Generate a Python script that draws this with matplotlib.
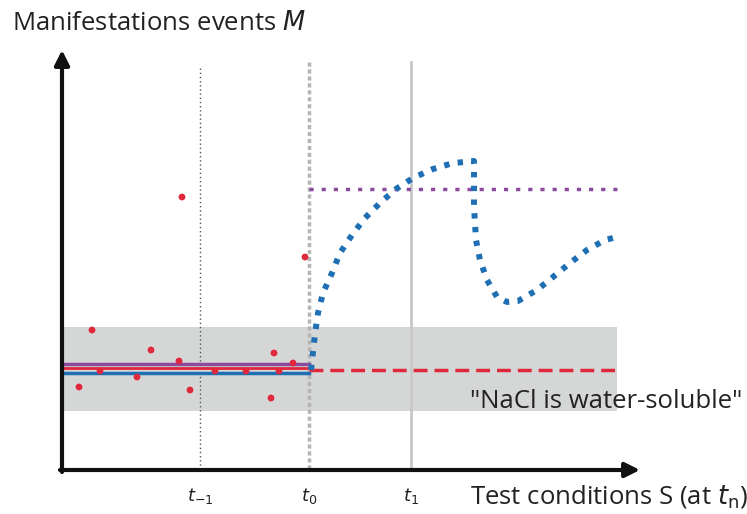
import matplotlib
matplotlib.use("Agg")
import matplotlib.pyplot as plt
from matplotlib.patches import Rectangle

# ---- data (pixel-like coordinates, y grows downward) ----
dots_x = [92, 79, 100, 137, 151, 179, 190, 215, 246, 271, 274, 279, 293, 182, 305]
dots_y = [330, 387, 371, 377, 350, 361, 390, 371, 371, 398, 353, 371, 363, 197, 257]

curve_x = [311, 315, 318, 323, 332, 340, 352, 365, 380, 396, 413, 433, 453, 465, 474,
           474, 476, 480, 487, 497, 507, 518, 537, 553, 570, 587, 605, 613]
curve_y = [370, 334, 313, 293, 273, 253, 235, 218, 203, 189, 178, 169, 163, 162, 161,
           207, 240, 260, 280, 297, 302, 301, 290, 277, 263, 250, 240, 238]

baseline_purple = 364
baseline_red = 368
baseline_blue = 373
red_dash_y = 370
purple_dot_y = 189
band_top, band_bottom = 327, 411
band_left, band_right = 62, 617

t_positions = [200, 309, 411]
t_labels = [r"$t_{-1}$", r"$t_0$", r"$t_1$"]

RED = "#e0283c"
PURPLE = "#8b4a9c"
BLUE = "#1f6fb4"

fig = plt.figure(figsize=(7.47, 5.14), dpi=100)
ax = fig.add_axes([0, 0, 1, 1])
ax.set_xlim(0, 747)
ax.set_ylim(514, 0)
ax.axis("off")

# gray band
ax.add_patch(Rectangle((band_left, band_top), band_right - band_left, band_bottom - band_top,
                       facecolor="#d5d6d6", edgecolor="none", zorder=0))

# vertical reference lines
ax.plot([t_positions[0]] * 2, [68, 470], color="#555555", lw=1.0, ls=(0, (1, 2)), zorder=1)
ax.plot([t_positions[1]] * 2, [62, 470], color="#b5b5b5", lw=2.5, ls=(0, (1.2, 0.8)), zorder=1)
ax.plot([t_positions[2]] * 2, [62, 470], color="#c8c8c8", lw=2.0, zorder=1)

# baselines
ax.plot([62, 309], [baseline_purple] * 2, color=PURPLE, lw=2.5, zorder=2)
ax.plot([62, 309], [baseline_blue] * 2, color=BLUE, lw=2.5, zorder=2)
ax.plot([62, 309], [baseline_red] * 2, color=RED, lw=2.0, zorder=3)
ax.plot([309, 617], [red_dash_y] * 2, color=RED, lw=2.5, ls=(0, (4, 2)), zorder=3)
ax.plot([309, 617], [purple_dot_y] * 2, color=PURPLE, lw=2.5, ls=(0, (1.2, 2.3)), zorder=3)

# blue dotted curve
ax.plot(curve_x, curve_y, color=BLUE, lw=4.3, ls=(0, (0.9, 1.4)), solid_capstyle="butt",
        dash_capstyle="butt", zorder=4)

# red dots
ax.scatter(dots_x, dots_y, s=24, color=RED, edgecolors="none", zorder=5)

# axes arrows
ax.annotate("", xy=(62, 50), xytext=(62, 472),
            arrowprops=dict(arrowstyle="-|>", lw=3, color="#111111", mutation_scale=22,
                            shrinkA=0, shrinkB=0), zorder=6)
ax.annotate("", xy=(640, 470), xytext=(60, 470),
            arrowprops=dict(arrowstyle="-|>", lw=3, color="#111111", mutation_scale=22,
                            shrinkA=0, shrinkB=0), zorder=6)

# texts
font = "Open Sans"
ax.text(12, 23, "Manifestations events $\\it{M}$", fontsize=18.5, family=font,
        color="#222222", va="center", ha="left")
for xp, lab in zip(t_positions, t_labels):
    ax.text(xp, 496, lab, fontsize=13, color="#222222", ha="center", va="center")
ax.text(470, 497, "Test conditions S (at $t_\\mathrm{n}$)", fontsize=18.5, family=font,
        color="#222222", va="center", ha="left")
ax.text(742, 402, "\"NaCl is water-soluble\"", fontsize=18.5, family=font,
        color="#222222", va="center", ha="right")

fig.savefig("out.png", dpi=100)
